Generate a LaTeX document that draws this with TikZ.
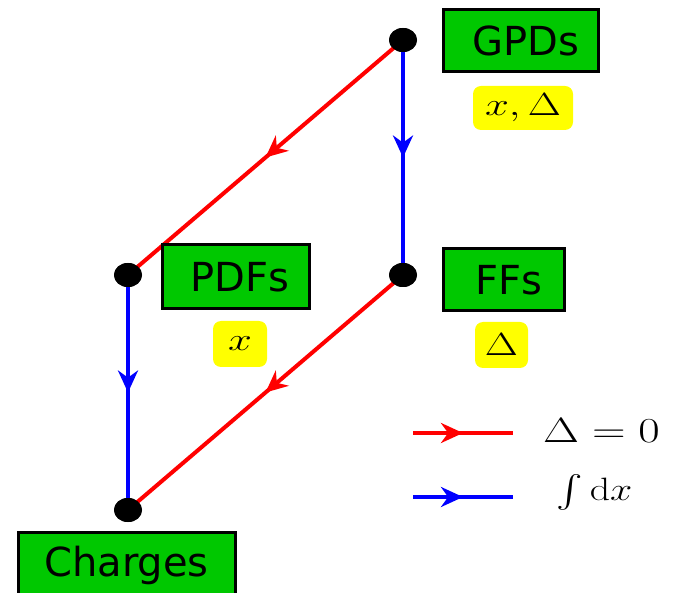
\documentclass[tikz,border=0pt]{standalone}
\usepackage[no-math]{fontspec}
\usepackage{exscale}
\usepackage{graphicx}
\newfontfamily\labelfont{DejaVu Sans}
\usetikzlibrary{arrows.meta,decorations.markings,shapes.geometric}
\definecolor{boxgreen}{RGB}{0,200,0}
\definecolor{hlyellow}{RGB}{255,255,0}
\newcommand{\boxmath}[1]{\scalebox{1.72}[1.29]{\fontsize{24.88}{30}\selectfont #1}}
\newcommand{\legmath}[1]{\scalebox{1.87}[1.41]{\fontsize{24.88}{30}\selectfont #1}}
\newcommand{\intmath}[1]{\scalebox{1.6}[1.3]{\fontsize{24.88}{30}\selectfont #1}}
\tikzset{
  dotnode/.style={ellipse, fill=black, minimum width=28pt, minimum height=24pt, inner sep=0pt},
  labelbox/.style={draw=black, line width=3pt, fill=boxgreen, inner sep=0pt,
    font=\labelfont\fontsize{40}{46}\selectfont},
  hlbox/.style={fill=hlyellow, rounded corners=8pt, inner sep=0pt},
  midarrow/.style={decoration={markings, mark=at position 0.5 with {\arrow{Stealth[length=22pt,width=20pt]}}}, postaction={decorate}},
  redline/.style={draw=red, line width=4pt, midarrow, color=red},
  blueline/.style={draw=blue, line width=4pt, midarrow, color=blue},
  legtext/.style={inner sep=0pt}
}
\begin{document}
\begin{tikzpicture}[x=1pt,y=-1pt]
\useasboundingbox (0,0) rectangle (675,593);
\clip (0,0) rectangle (675,593);
% dots
\node[dotnode] (g) at (403,40) {};
\node[dotnode] (f) at (403,275) {};
\node[dotnode] (p) at (128,275) {};
\node[dotnode] (c) at (128,510) {};
% connectors
\draw[redline] (g.center) -- (p.center);
\draw[redline] (f.center) -- (c.center);
\draw[blueline] (g.center) -- (f.center);
\draw[blueline] (p.center) -- (c.center);
\node[dotnode] at (g) {};
\node[dotnode] at (f) {};
\node[dotnode] at (p) {};
\node[dotnode] at (c) {};
% labels
\node[labelbox, minimum width=155pt, minimum height=62pt] (gpds) at (520.5,41) {\hspace*{10pt}GPDs};
\node[hlbox, minimum width=100pt, minimum height=44pt] (gv) at (523,108) {\boxmath{$x,\Delta$}};
\node[labelbox, minimum width=147pt, minimum height=64pt] (pdfs) at (235.5,277) {\hspace*{9pt}PDFs};
\node[hlbox, minimum width=54pt, minimum height=46pt] (pv) at (240,344) {\boxmath{$x$}};
\node[labelbox, minimum width=121pt, minimum height=62pt] (ffs) at (503.5,280) {\hspace*{10pt}FFs};
\node[hlbox, minimum width=53pt, minimum height=46pt] (fv) at (501.5,345) {\boxmath{$\Delta$}};
\node[labelbox, minimum width=217pt, minimum height=66pt] (charges) at (126.5,565) {Charges};
% legend
\coordinate (r1) at (413,433);
\coordinate (r2) at (513,433);
\coordinate (b1) at (413,497);
\coordinate (b2) at (513,497);
\draw[redline] (r1) -- (r2);
\draw[blueline] (b1) -- (b2);
\node[legtext] (lr) at (601.5,431) {\legmath{$\Delta = 0$}};
\node[legtext] (lb) at (594.5,492) {\intmath{$\int \mathrm{d}x$}};
\end{tikzpicture}
\end{document}
